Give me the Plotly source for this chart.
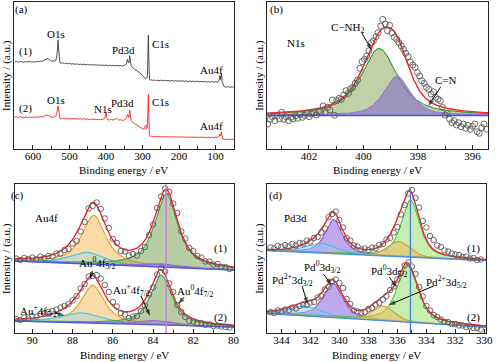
import numpy as np
import plotly.graph_objects as go

FONT = "Liberation Serif, Times New Roman, serif"

# ---------------- (a) survey spectra: (binding energy eV, intensity a.u.)
survey_1 = [(650, 87.0), (645, 87.6), (640, 86.8), (635, 87.5), (630, 87.2), (625, 86.6), (620, 87.4), (615, 86.9),
            (610, 87.7), (605, 87.0), (600, 87.3), (595, 86.8), (590, 87.6), (585, 87.2), (580, 87.9), (575, 87.5),
            (570, 88.6), (565, 89.4), (560, 90.5), (556, 89.6), (552, 88.4), (548, 87.6), (544, 88.2), (540, 87.8),
            (537, 89.0), (534, 94.0), (532, 104.0), (531, 109.0), (530, 101.0), (528, 91.0), (526, 86.5), (522, 85.8),
            (518, 86.2), (514, 85.4), (510, 85.9), (505, 85.2), (500, 85.6), (495, 84.9), (490, 85.3), (485, 84.7),
            (480, 85.1), (475, 84.5), (470, 84.9), (465, 84.3), (460, 84.8), (455, 84.2), (450, 84.6), (445, 84.0),
            (440, 84.4), (435, 83.9), (430, 84.3), (425, 83.7), (420, 84.2), (415, 83.6), (410, 84.0), (405, 83.5),
            (400, 83.9), (395, 83.4), (390, 83.8), (385, 83.3), (380, 83.7), (375, 83.1), (370, 83.6), (365, 83.0),
            (360, 83.5), (355, 82.9), (350, 83.4), (347, 84.0), (344, 85.5), (341, 89.7), (339, 86.5), (337, 86.0),
            (335, 93.3), (333, 88.0), (331, 83.5), (328, 81.5), (324, 80.5), (320, 79.0), (315, 78.0), (310, 77.2),
            (305, 75.5), (300, 73.5), (296, 72.0), (292, 70.3), (289, 70.8), (287, 72.0), (286, 80.0), (285, 100.0),
            (284, 114.0), (283, 96.0), (282, 78.0), (281, 70.0), (279, 68.8), (276, 69.2), (272, 68.6), (268, 69.0),
            (264, 68.4), (260, 68.9), (255, 68.3), (250, 68.8), (245, 68.2), (240, 68.7), (235, 68.2), (230, 68.6),
            (225, 68.0), (220, 68.5), (215, 67.9), (210, 68.4), (205, 67.8), (200, 68.3), (195, 67.7), (190, 68.2),
            (185, 67.6), (180, 68.1), (175, 67.5), (170, 68.0), (165, 67.4), (160, 67.9), (155, 67.3), (150, 67.8),
            (145, 67.2), (140, 67.7), (135, 67.1), (130, 67.6), (125, 67.0), (120, 67.5), (115, 66.9), (110, 67.4),
            (105, 66.8), (100, 67.3), (96, 66.8), (92, 67.5), (90, 69.0), (88, 73.5), (87, 71.0), (86, 69.5),
            (85, 72.0), (84, 75.5), (83, 72.0), (82, 67.0), (80, 64.0), (77, 62.5), (74, 62.2), (70, 61.8),
            (65, 62.3), (60, 61.7), (55, 62.1), (50, 61.8)]

survey_2 = [(650, 31.7), (645, 32.3), (640, 31.5), (635, 32.2), (630, 31.8), (625, 31.2), (620, 32.0), (615, 31.4),
            (610, 32.1), (605, 31.6), (600, 32.0), (595, 31.3), (590, 32.2), (585, 31.7), (580, 32.3), (575, 31.9),
            (570, 32.8), (565, 33.5), (560, 34.0), (556, 33.2), (552, 32.4), (548, 31.6), (544, 32.2), (540, 31.8),
            (537, 32.8), (534, 36.0), (532, 40.0), (531, 43.0), (530, 39.0), (528, 33.5), (526, 31.0), (522, 30.4),
            (518, 30.9), (514, 30.2), (510, 30.7), (505, 30.1), (500, 30.6), (495, 30.0), (490, 30.5), (485, 29.9),
            (480, 30.4), (475, 29.8), (470, 30.3), (465, 29.7), (460, 30.2), (455, 29.6), (450, 30.1), (445, 29.5),
            (440, 30.0), (435, 29.4), (430, 29.9), (425, 29.3), (420, 29.8), (415, 29.2), (410, 29.7), (405, 30.2),
            (402, 32.0), (400, 36.7), (398, 31.5), (395, 29.4), (390, 29.0), (385, 29.5), (380, 28.9), (375, 29.4),
            (370, 30.6), (367, 29.3), (365, 28.8), (360, 29.3), (355, 28.6), (350, 29.0), (347, 29.8), (344, 30.5),
            (341, 34.7), (339, 31.5), (337, 31.5), (335, 39.0), (333, 32.5), (331, 28.5), (328, 26.8), (324, 25.8),
            (320, 24.8), (315, 23.8), (310, 23.0), (305, 21.5), (300, 20.2), (296, 19.8), (293, 22.0), (291, 24.0),
            (289, 20.5), (287, 21.5), (286, 30.0), (285, 45.0), (284, 54.7), (283, 40.0), (282, 22.0), (281, 13.5),
            (279, 12.6), (276, 12.9), (272, 12.4), (268, 12.8), (264, 12.2), (260, 12.7), (255, 12.1), (250, 12.6),
            (245, 12.0), (240, 12.5), (235, 12.0), (230, 12.4), (225, 11.9), (220, 12.4), (215, 11.8), (210, 12.3),
            (205, 11.8), (200, 12.3), (195, 11.7), (190, 12.2), (185, 11.7), (180, 12.2), (175, 11.6), (170, 12.1),
            (165, 11.6), (160, 12.1), (155, 11.5), (150, 12.0), (145, 11.5), (140, 12.0), (135, 11.4), (130, 11.9),
            (125, 11.4), (120, 11.9), (115, 11.3), (110, 11.8), (105, 11.3), (100, 12.0), (96, 11.6), (92, 12.3),
            (90, 13.0), (88, 15.0), (87, 13.8), (86, 13.0), (85, 14.5), (84, 17.3), (83, 14.0), (82, 11.0),
            (80, 10.0), (77, 9.8), (74, 9.6), (70, 9.9), (65, 9.5), (60, 9.8), (55, 9.4), (50, 9.7)]

# ---------------- (b) N1s
n1s_points = [(403.51, 25.0), (403.42, 29.7), (403.34, 32.3), (403.25, 28.3), (403.17, 33.0), (403.08, 30.3),
              (403.00, 36.7), (402.92, 29.7), (402.83, 32.3), (402.75, 28.3), (402.66, 31.7), (402.58, 30.0),
              (402.49, 33.0), (402.41, 30.7), (402.33, 34.7), (402.24, 31.7), (402.16, 33.7), (402.07, 35.7),
              (401.99, 32.3), (401.90, 35.0), (401.82, 36.3), (401.73, 34.0), (401.65, 38.0), (401.57, 37.3),
              (401.48, 43.0), (401.40, 36.3), (401.31, 41.7), (401.23, 39.0), (401.14, 49.0), (401.06, 33.7),
              (400.98, 48.3), (400.89, 50.7), (400.81, 49.7), (400.72, 54.0), (400.64, 58.3), (400.55, 55.7),
              (400.47, 60.3), (400.39, 61.7), (400.30, 65.7), (400.22, 69.0), (400.13, 80.7), (400.05, 87.3),
              (399.96, 89.7), (399.88, 93.0), (399.80, 98.3), (399.71, 106.3), (399.63, 108.3), (399.54, 112.3),
              (399.46, 116.3), (399.37, 123.0), (399.29, 129.7), (399.20, 125.0), (399.12, 118.3), (399.04, 123.7),
              (398.95, 116.3), (398.87, 111.7), (398.78, 109.7), (398.70, 106.3), (398.61, 103.0), (398.53, 99.7),
              (398.45, 95.7), (398.36, 92.3), (398.28, 87.0), (398.19, 84.0), (398.11, 81.7), (398.02, 76.3),
              (397.94, 73.0), (397.86, 68.3), (397.77, 65.7), (397.69, 61.7), (397.60, 59.7), (397.52, 55.0),
              (397.43, 57.3), (397.35, 51.7), (397.27, 49.7), (397.18, 48.3), (397.10, 41.7), (397.01, 34.0),
              (396.93, 35.7), (396.84, 29.7), (396.76, 26.3), (396.67, 28.3), (396.59, 24.0), (396.51, 26.3),
              (396.42, 22.3), (396.34, 25.0), (396.25, 20.7), (396.17, 23.7), (396.08, 19.7), (396.00, 22.7),
              (395.92, 25.0), (395.83, 17.3), (395.75, 15.7), (395.66, 21.3), (395.58, 25.0), (395.49, 19.7)]
# fitted components: C-NH2, C=N
n1s_center = [399.42, 398.77]
n1s_height = [67.0, 39.0]
n1s_fwhm = [1.6, 1.15]
n1s_lor = [0.8, 0.6]
n1s_bg = [33.5, 33.5]          # background at high / low energy end

# ---------------- (c) Au4f
au_points_1 = [(90.8, 74.5), (90.6, 73.0), (90.4, 75.0), (90.2, 74.0), (90.0, 75.5), (89.8, 74.0), (89.6, 76.5),
               (89.4, 75.0), (89.2, 77.0), (89.0, 76.5), (88.8, 79.5), (88.6, 79.5), (88.4, 83.0), (88.2, 84.0),
               (88.0, 89.5), (87.8, 92.0), (87.6, 101.5), (87.4, 111.0), (87.2, 124.5), (87.0, 127.0), (86.8, 130.5),
               (86.6, 124.0), (86.4, 114.5), (86.2, 105.0), (86.0, 94.0), (85.8, 90.0), (85.6, 82.0), (85.4, 81.5),
               (85.2, 77.5), (85.0, 79.0), (84.8, 77.5), (84.6, 82.0), (84.4, 86.0), (84.2, 98.0), (84.0, 108.5),
               (83.8, 125.0), (83.6, 136.5), (83.4, 144.5), (83.2, 141.0), (83.0, 129.5), (82.8, 120.0), (82.6, 101.5),
               (82.4, 94.5), (82.2, 85.0), (82.0, 82.0), (81.8, 77.0), (81.6, 75.5), (81.4, 71.5), (81.2, 71.5),
               (81.0, 68.5), (80.8, 69.0), (80.6, 66.0), (80.4, 66.0), (80.2, 64.0)]
au_points_2 = [(90.8, 14.0), (90.6, 13.0), (90.4, 15.5), (90.2, 14.5), (90.0, 17.0), (89.8, 16.5), (89.6, 19.0),
               (89.4, 19.5), (89.2, 21.0), (89.0, 22.0), (88.8, 23.5), (88.6, 25.5), (88.4, 27.0), (88.2, 29.0),
               (88.0, 32.5), (87.8, 37.0), (87.6, 44.5), (87.4, 49.0), (87.2, 56.5), (87.0, 57.0), (86.8, 58.0),
               (86.6, 54.5), (86.4, 48.0), (86.2, 41.0), (86.0, 31.0), (85.8, 26.5), (85.6, 20.0), (85.4, 18.5),
               (85.2, 15.0), (85.0, 16.5), (84.8, 17.0), (84.6, 22.0), (84.4, 27.5), (84.2, 38.5), (84.0, 45.5),
               (83.8, 58.5), (83.6, 65.0), (83.4, 61.5), (83.2, 49.5), (83.0, 41.0), (82.8, 28.0), (82.6, 21.0),
               (82.4, 16.0), (82.2, 12.0), (82.0, 11.5), (81.8, 9.5), (81.6, 10.0), (81.4, 8.0), (81.2, 8.5),
               (81.0, 7.0), (80.8, 7.5), (80.6, 6.5), (80.4, 6.0), (80.2, 5.5)]
# components: Au0 4f5/2, Au+ 4f5/2, Au0 4f7/2, Au+ 4f7/2
au_center_1 = [86.95, 87.3, 83.35, 83.8]
au_height_1 = [49.0, 11.7, 73.5, 3.3]
au_fwhm_1 = [1.4, 2.0, 1.35, 1.8]
au_center_2 = [87.0, 87.6, 83.6, 83.95]
au_height_2 = [38.0, 10.0, 50.0, 4.4]
au_fwhm_2 = [1.35, 2.4, 1.25, 1.8]
au_lor = [0.85, 0.5, 0.85, 0.5]
au_bg_1 = [72.0, 63.0]
au_bg_2 = [12.0, 6.0]
au_ref_line = 83.35

# ---------------- (d) Pd3d
pd_points_1 = [(344.75, 85.5), (344.5, 84.5), (344.25, 87.0), (344.0, 86.0), (343.75, 88.0), (343.5, 86.5),
               (343.25, 89.0), (343.0, 87.5), (342.75, 90.0), (342.5, 89.5), (342.25, 92.5), (342.0, 91.5),
               (341.75, 95.0), (341.5, 96.0), (341.25, 100.5), (341.0, 104.5), (340.75, 116.0), (340.5, 119.0),
               (340.25, 121.5), (340.0, 113.0), (339.75, 105.5), (339.5, 95.0), (339.25, 92.5), (339.0, 87.5),
               (338.75, 86.5), (338.5, 83.5), (338.25, 84.5), (338.0, 83.0), (337.75, 85.5), (337.5, 85.0),
               (337.25, 88.0), (337.0, 89.0), (336.75, 93.5), (336.5, 95.0), (336.25, 100.5), (336.0, 106.0),
               (335.75, 118.5), (335.5, 128.0), (335.25, 139.5), (335.0, 143.0), (334.75, 135.0), (334.5, 125.5),
               (334.25, 112.0), (334.0, 105.5), (333.75, 97.0), (333.5, 93.0), (333.25, 87.5), (333.0, 86.0),
               (332.75, 82.5), (332.5, 81.5), (332.25, 79.5), (332.0, 78.5), (331.75, 78.0), (331.5, 76.0),
               (331.25, 76.5), (331.0, 74.5), (330.75, 75.0), (330.5, 73.0), (330.25, 73.5)]
pd_points_2 = [(344.75, 21.0), (344.5, 20.0), (344.25, 22.5), (344.0, 21.5), (343.75, 23.5), (343.5, 23.0),
               (343.25, 25.5), (343.0, 24.5), (342.75, 27.0), (342.5, 28.5), (342.25, 28.0), (342.0, 30.5),
               (341.75, 31.0), (341.5, 35.5), (341.25, 37.0), (341.0, 43.5), (340.75, 46.0), (340.5, 51.5),
               (340.25, 53.5), (340.0, 50.0), (339.75, 45.0), (339.5, 34.0), (339.25, 29.0), (339.0, 22.5),
               (338.75, 21.5), (338.5, 20.5), (338.25, 21.0), (338.0, 24.0), (337.75, 25.0), (337.5, 28.5),
               (337.25, 30.0), (337.0, 33.5), (336.75, 37.0), (336.5, 43.0), (336.25, 46.5), (336.0, 53.5),
               (335.75, 60.0), (335.5, 67.5), (335.25, 70.5), (335.0, 66.5), (334.75, 59.0), (334.5, 46.0),
               (334.25, 36.5), (334.0, 27.0), (333.75, 22.5), (333.5, 18.0), (333.25, 16.0), (333.0, 13.5),
               (332.75, 11.0), (332.5, 11.0), (332.25, 9.0), (332.0, 9.0), (331.75, 7.5), (331.5, 7.5),
               (331.25, 6.0), (331.0, 6.5), (330.75, 5.0), (330.5, 5.0), (330.25, 3.5)]
# components: Pd0 3d3/2, Pd2+ 3d3/2, Pd0 3d5/2, Pd2+ 3d5/2
pd_center_1 = [340.4, 341.3, 335.1, 335.9]
pd_height_1 = [34.0, 9.7, 57.0, 15.0]
pd_fwhm_1 = [1.4, 2.5, 1.5, 1.8]
pd_center_2 = [340.45, 342.4, 335.3, 337.0]
pd_height_2 = [34.3, 9.8, 57.0, 14.7]
pd_fwhm_2 = [1.6, 2.6, 1.7, 1.8]
pd_lor = [0.65, 0.3, 0.65, 0.3]
pd_bg_1 = [82.5, 72.5]
pd_bg_2 = [19.5, 6.0]
pd_ref_line = 335.1

# ---------------- axes
X_RANGES = {"x": [652.2, 50.5], "x2": [403.54, 395.43], "x3": [90.87, 79.98], "x4": [345.0, 329.86]}

COL_RED = "#ff2020"
COMP_STYLE_AU = [("#e6a125", "rgba(242,190,95,0.55)"), ("#3ec6e4", "rgba(150,215,235,0.45)"),
                 ("#2fae5a", "rgba(115,155,75,0.50)"), ("#9a5fd6", "rgba(165,120,225,0.45)")]
COMP_STYLE_PD = [("#8a5cd0", "rgba(150,110,225,0.60)"), ("#3cc0ee", "rgba(150,195,240,0.50)"),
                 ("#4cc04c", "rgba(150,225,110,0.55)"), ("#d99a2a", "rgba(235,185,90,0.55)")]
COMP_STYLE_N = [("#3c9a30", "rgba(140,170,95,0.55)"), ("#a070e0", "rgba(130,110,200,0.60)")]


def pseudo_voigt(e, c, h, w, m):
    x = (e - c) / w
    return h * (m / (1.0 + 4.0 * x ** 2) + (1.0 - m) * np.exp(-4.0 * np.log(2.0) * x ** 2))


fig = go.Figure()


def add_fit(xa, ya, bg_ends, centers, heights, fwhms, lors, styles, base_color):
    lo, hi = min(X_RANGES[xa]), max(X_RANGES[xa])
    e = np.linspace(hi, lo, 500)
    bg = bg_ends[1] + (e - lo) / (hi - lo) * (bg_ends[0] - bg_ends[1])
    total = bg.copy()
    for c, h, w, m, (lc, fc) in zip(centers, heights, fwhms, lors, styles):
        comp = pseudo_voigt(e, c, h, w, m)
        total = total + comp
        fig.add_trace(go.Scatter(x=e, y=bg, mode="lines", line=dict(width=0, color=lc),
                                 xaxis=xa, yaxis=ya, hoverinfo="skip", showlegend=False))
        fig.add_trace(go.Scatter(x=e, y=bg + comp, mode="lines", line=dict(width=1.1, color=lc),
                                 fill="tonexty", fillcolor=fc, xaxis=xa, yaxis=ya,
                                 hoverinfo="skip", showlegend=False))
    fig.add_trace(go.Scatter(x=e, y=bg, mode="lines", line=dict(width=1.3, color=base_color),
                             xaxis=xa, yaxis=ya, hoverinfo="skip", showlegend=False))
    fig.add_trace(go.Scatter(x=e, y=total, mode="lines", line=dict(width=1.4, color=COL_RED),
                             xaxis=xa, yaxis=ya, hoverinfo="skip", showlegend=False))


def add_points(pts, xa, ya, size=5.5):
    fig.add_trace(go.Scatter(x=[p[0] for p in pts], y=[p[1] for p in pts], mode="markers",
                             marker=dict(symbol="circle-open", size=size, color="#5a5a5a",
                                         line=dict(width=0.9, color="#5a5a5a")),
                             xaxis=xa, yaxis=ya, showlegend=False))


# (a)
fig.add_trace(go.Scatter(x=[p[0] for p in survey_1], y=[p[1] for p in survey_1], mode="lines",
                         line=dict(color="#3c3c3c", width=0.9), xaxis="x", yaxis="y", showlegend=False))
fig.add_trace(go.Scatter(x=[p[0] for p in survey_2], y=[p[1] for p in survey_2], mode="lines",
                         line=dict(color=COL_RED, width=0.9), xaxis="x", yaxis="y", showlegend=False))

# (b)
add_fit("x2", "y2", n1s_bg, n1s_center, n1s_height, n1s_fwhm, n1s_lor, COMP_STYLE_N, "#3a55ff")
add_points(n1s_points, "x2", "y2", 6)

# (c)
add_fit("x3", "y3", au_bg_1, au_center_1, au_height_1, au_fwhm_1, au_lor, COMP_STYLE_AU, "#4a5cf0")
add_fit("x3", "y3", au_bg_2, au_center_2, au_height_2, au_fwhm_2, au_lor, COMP_STYLE_AU, "#4a5cf0")
add_points(au_points_1, "x3", "y3")
add_points(au_points_2, "x3", "y3")

# (d)
add_fit("x4", "y4", pd_bg_1, pd_center_1, pd_height_1, pd_fwhm_1, pd_lor, COMP_STYLE_PD, "#4a8cf0")
add_fit("x4", "y4", pd_bg_2, pd_center_2, pd_height_2, pd_fwhm_2, pd_lor, COMP_STYLE_PD, "#4a8cf0")
add_points(pd_points_1, "x4", "y4")
add_points(pd_points_2, "x4", "y4")

# reference lines
fig.add_shape(type="line", xref="x3", yref="y3 domain", x0=au_ref_line, x1=au_ref_line, y0=0.0, y1=1.0,
              line=dict(color="#c878d8", width=1.3))
fig.add_shape(type="line", xref="x4", yref="y4 domain", x0=pd_ref_line, x1=pd_ref_line, y0=0.0, y1=0.97,
              line=dict(color="#4a7fd8", width=1.3))

W, H = 500, 362


def xdom(l, r):
    return [l / W, r / W]


def ydom(top, bottom):
    return [1 - bottom / H, 1 - top / H]


def xax(dom, rng, dtick, minor):
    return dict(domain=dom, range=rng, dtick=dtick, tick0=0, ticks="inside", ticklen=4, tickwidth=1,
                tickcolor="#222", showline=True, mirror=True, linecolor="#222", linewidth=1,
                showgrid=False, zeroline=False, tickfont=dict(family=FONT, size=11, color="black"),
                ticklabelstandoff=-3,
                minor=dict(dtick=minor, ticks="inside", ticklen=3, tickcolor="#222", showgrid=False))


def yax(dom, rng, anchor):
    return dict(domain=dom, range=rng, showticklabels=False, ticks="", showline=True, mirror=True,
                linecolor="#222", linewidth=1, showgrid=False, zeroline=False, anchor=anchor)


layout = dict(width=W, height=H, margin=dict(l=0, r=0, t=0, b=0), paper_bgcolor="white",
              plot_bgcolor="white", showlegend=False, font=dict(family=FONT, size=11, color="black"))
layout["xaxis"] = xax(xdom(14, 237), X_RANGES["x"], 100, 50) | dict(anchor="y")
layout["yaxis"] = yax(ydom(2, 149), [0, 147], "x")
layout["xaxis2"] = xax(xdom(270.7, 495), X_RANGES["x2"], 2, 1) | dict(anchor="y2")
layout["yaxis2"] = yax(ydom(2, 149), [0, 147], "x2")
layout["xaxis3"] = xax(xdom(15, 237.3), X_RANGES["x3"], 2, 1) | dict(anchor="y3")
layout["yaxis3"] = yax(ydom(184, 333), [0, 149], "x3")
layout["xaxis4"] = xax(xdom(270.7, 493.3), X_RANGES["x4"], 2, 1) | dict(anchor="y4")
layout["yaxis4"] = yax(ydom(184, 333), [0, 149], "x4")
fig.update_layout(**layout)

ann = []


def label(text, x, y, xa, ya, size=11):
    ann.append(dict(text=text, x=x, y=y, xref=xa, yref=ya, showarrow=False,
                    font=dict(family=FONT, size=size, color="black"), xanchor="center", yanchor="middle"))


def arrow(x, y, ax, ay, xa, ya):
    # pointer line from label (ax, ay) to target (x, y), with an arrow head at the target
    fig.add_trace(go.Scatter(x=[ax, x], y=[ay, y], mode="lines+markers",
                             line=dict(color="black", width=1),
                             marker=dict(symbol=["circle", "arrow"], size=[0.1, 7], angleref="previous",
                                         color="black", line=dict(width=0)),
                             xaxis=xa, yaxis=ya, hoverinfo="skip", showlegend=False))


# (a)
for t, x, y in [("(a)", 631, 139), ("(1)", 620, 97), ("O1s", 536, 115), ("Pd3d", 352, 99), ("C1s", 252, 105),
                ("Au4f", 112, 79), ("(2)", 620, 41), ("O1s", 536, 49), ("N1s", 409, 40), ("Pd3d", 355, 46),
                ("C1s", 252, 47), ("Au4f", 112, 23)]:
    label(t, x, y, "x", "y")
# (b)
label("(b)", 403.2, 139, "x2", "y2")
label("N1s", 402.48, 106, "x2", "y2")
label("C−NH<sub>2</sub>", 400.57, 121, "x2", "y2")
arrow(399.7, 99, 400.06, 116, "x2", "y2")
label("C=N", 396.99, 69, "x2", "y2")
arrow(397.62, 43, 397.17, 62, "x2", "y2")
# (c)
for t, x, y in [("(c)", 90.73, 138), ("Au4f", 89.3, 115), ("(1)", 80.63, 85), ("(2)", 80.63, 16),
                ("Au<sup>0</sup>4f<sub>5/2</sub>", 86.8, 70), ("Au<sup>+</sup>4f<sub>7/2</sub>", 85.06, 43),
                ("Au<sup>0</sup>4f<sub>7/2</sub>", 81.92, 42), ("Au<sup>+</sup>4f<sub>5/2</sub>", 89.68, 22)]:
    label(t, x, y, "x3", "y3")
arrow(87.12, 54, 87.02, 62, "x3", "y3")
arrow(84.15, 17, 84.6, 37, "x3", "y3")
arrow(82.75, 29, 82.45, 36, "x3", "y3")
arrow(88.4, 17.5, 88.87, 20, "x3", "y3")
# (d)
for t, x, y in [("(d)", 344.39, 138), ("Pd3d", 343.03, 115), ("(1)", 330.78, 85), ("(2)", 330.78, 16),
                ("Pd<sup>0</sup>3d<sub>3/2</sub>", 341.19, 66), ("Pd<sup>2+</sup>3d<sub>3/2</sub>", 343.25, 53),
                ("Pd<sup>0</sup>3d<sub>5/2</sub>", 336.56, 62), ("Pd<sup>2+</sup>3d<sub>5/2</sub>", 332.6, 51)]:
    label(t, x, y, "x4", "y4")
arrow(340.55, 48, 341.1, 59, "x4", "y4")
arrow(342.2, 29, 342.57, 47, "x4", "y4")
arrow(336.05, 46, 336.56, 56, "x4", "y4")
arrow(336.6, 28, 333.5, 47, "x4", "y4")

# axis titles
for xc, yc in [(125.5, 170), (383, 170), (126, 355), (382, 355)]:
    ann.append(dict(text="Binding energy / eV", x=xc / W, y=1 - yc / H, xref="paper", yref="paper",
                    showarrow=False, font=dict(family=FONT, size=11, color="black"),
                    xanchor="center", yanchor="middle"))
for xc, yc in [(6.5, 75.5), (263, 75.5), (6.5, 258.5), (263, 258.5)]:
    ann.append(dict(text="Intensity / (a.u.)", x=xc / W, y=1 - yc / H, xref="paper", yref="paper",
                    showarrow=False, textangle=-90, font=dict(family=FONT, size=11, color="black"),
                    xanchor="center", yanchor="middle"))

fig.update_layout(annotations=ann)
fig.write_html("out.html", config={"displayModeBar": False},
               post_script="document.body.style.margin='0';document.body.style.padding='0';")
